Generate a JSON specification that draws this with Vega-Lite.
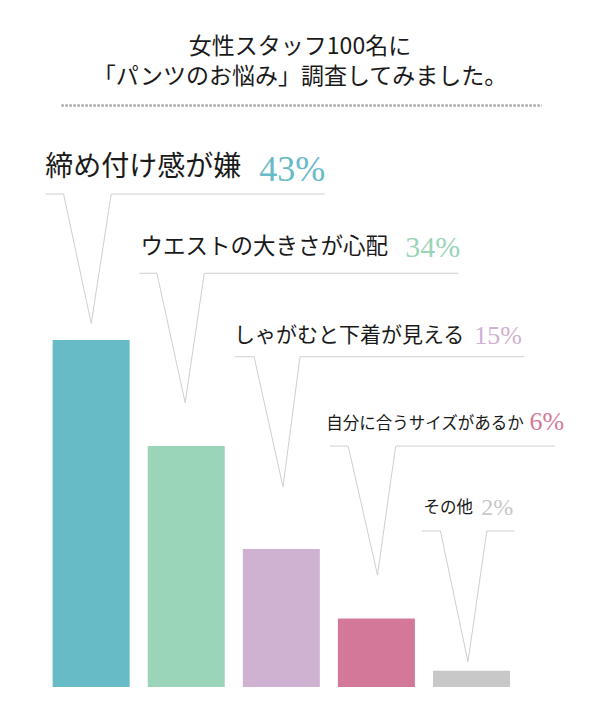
{
  "$schema": "https://vega.github.io/schema/vega-lite/v6.json",
  "description": "女性スタッフ100名に「パンツのお悩み」調査",
  "width": 600,
  "height": 587,
  "autosize": "none",
  "padding": {"left": 0, "top": 100, "right": 0, "bottom": 33},
  "background": "#ffffff",
  "title": {
    "text": ["女性スタッフ100名に", "「パンツのお悩み」調査してみました。"],
    "anchor": "middle",
    "frame": "group",
    "baseline": "bottom",
    "offset": -12,
    "lineHeight": 30,
    "font": "Noto Sans CJK JP",
    "fontSize": 23,
    "fontWeight": "normal",
    "color": "#1a1a1a"
  },
  "datasets": {
    "answers": [
      {"item": "締め付け感が嫌", "pct": 43, "label": "43%", "bar": 43, "idx": 1, "lx": 0.5181, "ly": 63.35, "px": 2.7673, "py": 62.74},
      {"item": "ウエストの大きさが心配", "pct": 34, "label": "34%", "bar": 29.86, "idx": 2, "lx": 1.5181, "ly": 53.67, "px": 4.303, "py": 53.25},
      {"item": "しゃがむと下着が見える", "pct": 15, "label": "15%", "bar": 17.1, "idx": 3, "lx": 2.5016, "ly": 42.8, "px": 5.03, "py": 42.5},
      {"item": "自分に合うサイズがあるか", "pct": 6, "label": "6%", "bar": 8.49, "idx": 4, "lx": 3.4736, "ly": 32.02, "px": 5.6091, "py": 31.85},
      {"item": "その他", "pct": 2, "label": "2%", "bar": 2.02, "idx": 5, "lx": 4.4943, "ly": 21.56, "px": 5.1024, "py": 21.31}
    ],
    "pointers": [
      {"c": 1, "o": 1, "x": 0.5233, "y": 61.09},
      {"c": 1, "o": 2, "x": 0.7104, "y": 61.09},
      {"c": 1, "o": 3, "x": 1.001, "y": 45.04},
      {"c": 1, "o": 4, "x": 1.211, "y": 61.09},
      {"c": 1, "o": 5, "x": 3.455, "y": 61.09},
      {"c": 2, "o": 1, "x": 1.5057, "y": 51.27},
      {"c": 2, "o": 2, "x": 1.6918, "y": 51.27},
      {"c": 2, "o": 3, "x": 1.9886, "y": 35.23},
      {"c": 2, "o": 4, "x": 2.1903, "y": 51.27},
      {"c": 2, "o": 5, "x": 4.8614, "y": 51.27},
      {"c": 3, "o": 1, "x": 2.514, "y": 40.93},
      {"c": 3, "o": 2, "x": 2.7135, "y": 40.93},
      {"c": 3, "o": 3, "x": 3.0176, "y": 24.82},
      {"c": 3, "o": 4, "x": 3.1965, "y": 40.93},
      {"c": 3, "o": 5, "x": 5.5543, "y": 40.93},
      {"c": 4, "o": 1, "x": 3.5119, "y": 29.86},
      {"c": 4, "o": 2, "x": 3.7032, "y": 29.86},
      {"c": 4, "o": 3, "x": 4.0114, "y": 13.88},
      {"c": 4, "o": 4, "x": 4.2027, "y": 29.86},
      {"c": 4, "o": 5, "x": 5.8749, "y": 29.86},
      {"c": 5, "o": 1, "x": 4.4788, "y": 19.33},
      {"c": 5, "o": 2, "x": 4.6732, "y": 19.33},
      {"c": 5, "o": 3, "x": 4.9628, "y": 3.14},
      {"c": 5, "o": 4, "x": 5.1613, "y": 19.33},
      {"c": 5, "o": 5, "x": 5.4509, "y": 19.33}
    ],
    "separator": [
      {"x1": 0.6866, "x2": 5.7404, "y": 72.06}
    ]
  },
  "layer": [
    {
      "data": {"name": "separator"},
      "mark": {"type": "rule", "color": "#aaaaaa", "strokeWidth": 2.5, "strokeDash": [2.5, 1.5]},
      "encoding": {
        "x": {"field": "x1", "type": "quantitative", "axis": null, "scale": {"domain": [0.0941, 6.2989], "nice": false, "zero": false}},
        "x2": {"field": "x2"},
        "y": {"field": "y", "type": "quantitative", "axis": null, "scale": {"domain": [0, 72.74], "nice": false}}
      }
    },
    {
      "data": {"name": "pointers"},
      "mark": {"type": "line", "color": "#cfcfcf", "strokeWidth": 1},
      "encoding": {
        "x": {"field": "x", "type": "quantitative", "axis": null, "scale": {"domain": [0.0941, 6.2989], "nice": false, "zero": false}},
        "y": {"field": "y", "type": "quantitative", "axis": null, "scale": {"domain": [0, 72.74], "nice": false}},
        "detail": {"field": "c", "type": "nominal"},
        "order": {"field": "o", "type": "quantitative"}
      }
    },
    {
      "data": {"name": "answers"},
      "mark": {"type": "bar", "orient": "vertical", "width": 77},
      "encoding": {
        "x": {"field": "idx", "type": "quantitative", "axis": null, "scale": {"domain": [0.0941, 6.2989], "nice": false, "zero": false}},
        "y": {"field": "bar", "type": "quantitative", "axis": null, "scale": {"domain": [0, 72.74], "nice": false}},
        "color": {
          "field": "item", "type": "nominal", "legend": null,
          "scale": {
            "domain": ["締め付け感が嫌", "ウエストの大きさが心配", "しゃがむと下着が見える", "自分に合うサイズがあるか", "その他"],
            "range": ["#67bbc7", "#9ad4b9", "#cfb1d2", "#d4789a", "#c8c8c8"]
          }
        },
        "tooltip": [
          {"field": "item", "title": "回答"},
          {"field": "label", "title": "割合"}
        ]
      }
    },
    {
      "data": {"name": "answers"},
      "mark": {"type": "text", "align": "left", "baseline": "alphabetic", "font": "Noto Sans CJK JP", "color": "#1a1a1a"},
      "encoding": {
        "x": {"field": "lx", "type": "quantitative", "axis": null, "scale": {"domain": [0.0941, 6.2989], "nice": false, "zero": false}},
        "y": {"field": "ly", "type": "quantitative", "axis": null, "scale": {"domain": [0, 72.74], "nice": false}},
        "text": {"field": "item"},
        "size": {
          "field": "pct", "type": "quantitative", "legend": null,
          "scale": {"domain": [2, 6, 15, 34, 43], "range": [16.5, 16.5, 21, 22.5, 28]}
        }
      }
    },
    {
      "data": {"name": "answers"},
      "mark": {"type": "text", "align": "left", "baseline": "alphabetic", "font": "Liberation Serif"},
      "encoding": {
        "x": {"field": "px", "type": "quantitative", "axis": null, "scale": {"domain": [0.0941, 6.2989], "nice": false, "zero": false}},
        "y": {"field": "py", "type": "quantitative", "axis": null, "scale": {"domain": [0, 72.74], "nice": false}},
        "text": {"field": "label"},
        "color": {"field": "item", "type": "nominal", "legend": null},
        "size": {
          "field": "pct", "type": "quantitative", "legend": null,
          "scale": {"domain": [2, 6, 15, 34, 43], "range": [24, 26, 26, 30, 36]}
        }
      }
    }
  ],
  "resolve": {"scale": {"size": "independent"}},
  "config": {"view": {"stroke": null}}
}
